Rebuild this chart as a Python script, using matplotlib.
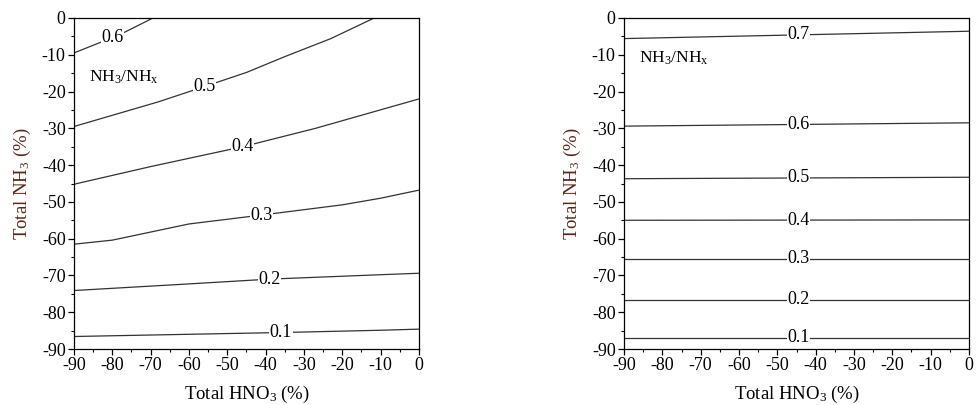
"""
Contour lines of NH3/NHx versus total HNO3 and total NH3 changes, two panels.
"""
import numpy as np
import matplotlib
matplotlib.use('Agg')
import matplotlib.pyplot as plt
from matplotlib.ticker import MultipleLocator

plt.rcParams['font.family'] = ['Liberation Serif', 'DejaVu Serif']
plt.rcParams['mathtext.fontset'] = 'custom'
plt.rcParams['mathtext.rm'] = 'Liberation Serif'
plt.rcParams['mathtext.it'] = 'Liberation Serif:italic'
plt.rcParams['axes.unicode_minus'] = False

# Left panel contours (x = total HNO3 %, y = total NH3 %)
left_levels = ['0.1', '0.2', '0.3', '0.4', '0.5', '0.6']
left_x = {
    '0.1': [-90, -60, -35, -10, 0],
    '0.2': [-90, -60, -39, -10, 0],
    '0.3': [-90, -80, -60, -42, -20, -10, 0],
    '0.4': [-90, -70, -46, -27, 0],
    '0.5': [-90, -68, -57, -45, -35, -23, -11.7],
    '0.6': [-90, -78, -69.4],
}
left_y = {
    '0.1': [-86.6, -86.0, -85.5, -84.9, -84.6],
    '0.2': [-74.1, -72.3, -71.0, -69.8, -69.4],
    '0.3': [-61.5, -60.4, -56.0, -53.7, -50.8, -49.0, -46.8],
    '0.4': [-45.2, -40.4, -35.0, -30.0, -22.0],
    '0.5': [-29.5, -22.8, -19.0, -14.8, -10.5, -5.6, 0.0],
    '0.6': [-9.5, -4.5, 0.0],
}
left_label_x = {'0.1': -36, '0.2': -39, '0.3': -41, '0.4': -46, '0.5': -56, '0.6': -80}

# Right panel contours (nearly flat)
right_levels = ['0.1', '0.2', '0.3', '0.4', '0.5', '0.6', '0.7']
right_x = [-90, 0]
right_y = {
    '0.1': [-87.0, -87.0],
    '0.2': [-76.6, -76.6],
    '0.3': [-65.4, -65.4],
    '0.4': [-55.0, -54.9],
    '0.5': [-43.7, -43.3],
    '0.6': [-29.4, -28.5],
    '0.7': [-5.6, -3.6],
}
right_label_x = -44.5

fig = plt.figure(figsize=(9.79, 4.05), dpi=100)
ax_l = fig.add_axes([74 / 979, 56 / 405, 345 / 979, 331 / 405])
ax_r = fig.add_axes([624 / 979, 56 / 405, 345 / 979, 331 / 405])


def draw_level(ax, xs, ys, label, lx):
    ax.plot(xs, ys, color='#333333', lw=0.9, zorder=2)
    ly = np.interp(lx, xs, ys)
    ax.text(lx, ly, label, ha='center', va='center', fontsize=13, zorder=3,
            bbox=dict(facecolor='white', edgecolor='none', pad=0.2))


for lev in left_levels:
    draw_level(ax_l, left_x[lev], left_y[lev], lev, left_label_x[lev])
for lev in right_levels:
    draw_level(ax_r, right_x, right_y[lev], lev, right_label_x)

for ax in (ax_l, ax_r):
    ax.set_xlim(-90, 0)
    ax.set_ylim(-90, 0)
    ax.xaxis.set_major_locator(MultipleLocator(10))
    ax.xaxis.set_minor_locator(MultipleLocator(5))
    ax.yaxis.set_major_locator(MultipleLocator(10))
    ax.yaxis.set_minor_locator(MultipleLocator(5))
    ax.tick_params(which='major', direction='out', length=4, width=0.9, labelsize=13, pad=2)
    ax.tick_params(which='minor', direction='out', length=2, width=0.8)
    for s in ax.spines.values():
        s.set_linewidth(0.9)
    ax.set_xlabel('Total HNO$_3$ (%)', fontsize=13.5, labelpad=7)
    ax.set_ylabel('Total NH$_3$ (%)', fontsize=13.5, color='#5c2418', labelpad=6)

ax_l.text(-86, -16, 'NH$_3$/NH$_\\mathrm{x}$', fontsize=12.5, ha='left', va='center')
ax_r.text(-86, -11, 'NH$_3$/NH$_\\mathrm{x}$', fontsize=12.5, ha='left', va='center')

fig.savefig('out.png', dpi=100)
